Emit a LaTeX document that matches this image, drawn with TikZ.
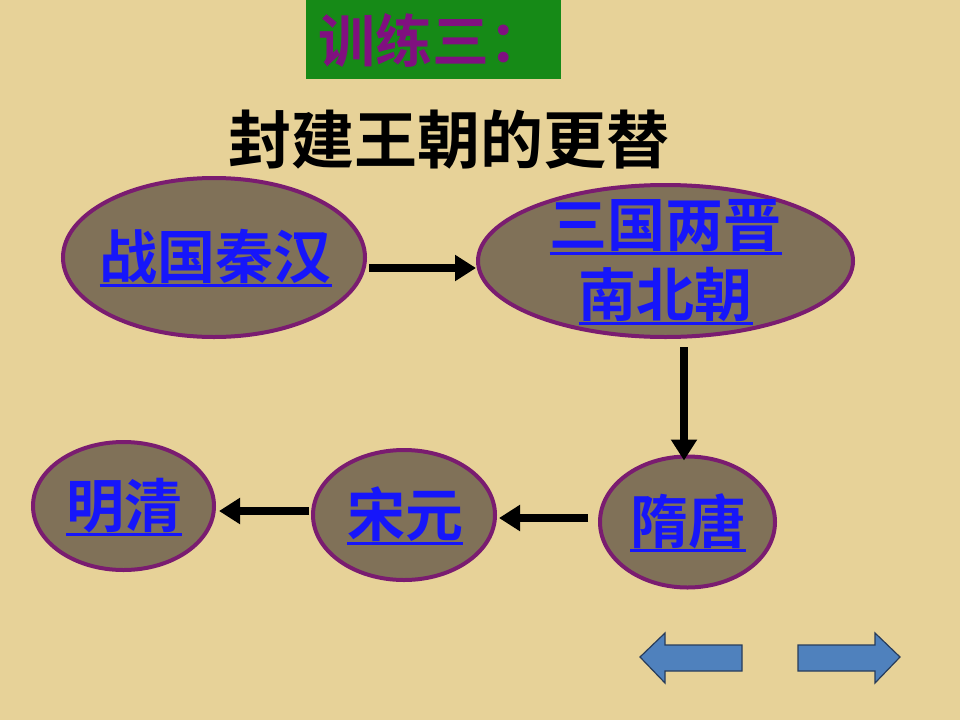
\documentclass[tikz,border=0pt]{standalone}
\usepackage{fontspec}
\newfontfamily\cjk{Noto Sans CJK SC}[BoldFont={Noto Sans CJK SC Bold}]
\usetikzlibrary{arrows.meta,shapes.geometric}
\definecolor{bgbeige}{RGB}{231,210,152}
\definecolor{ovalfill}{RGB}{128,113,88}
\definecolor{ovalborder}{RGB}{122,28,112}
\definecolor{linkblue}{RGB}{22,22,250}
\definecolor{boxgreen}{RGB}{22,138,23}
\definecolor{labelpurple}{RGB}{128,16,128}
\definecolor{navblue}{RGB}{79,129,189}
\definecolor{navedge}{RGB}{40,60,90}
\newcommand\ulink[1]{\setbox0\hbox{#1}\rlap{\rule[-9pt]{\wd0}{3pt}}\box0}
\tikzset{
  era/.style={shape=ellipse, draw=ovalborder, line width=4pt, fill=ovalfill, inner sep=0pt},
  eratext/.style={text=linkblue, align=center, inner sep=0pt,
    font=\cjk\bfseries\fontsize{58}{70}\selectfont},
  flow/.style={line width=8pt, -{Triangle[length=21pt,width=25pt]}},
  navarrow/.style={fill=navblue, draw=navedge, line width=1.2pt, line join=miter}
}
\begin{document}
\begin{tikzpicture}[x=1pt,y=-1pt]
\fill[bgbeige] (0,0) rectangle (960,720);
\useasboundingbox (0,0) rectangle (960,720);
% title box
\fill[boxgreen] (306,0) rectangle (561,79);
\node[anchor=west, text=labelpurple, font=\cjk\bfseries\fontsize{57}{60}\selectfont, inner sep=0pt] (lbl) at (318,40) {训练三：};
\node[font=\cjk\bfseries\fontsize{63}{70}\selectfont, inner sep=0pt] (title) at (449,140) {封建王朝的更替};
% eras
\node[era, minimum width=302pt, minimum height=159pt] (e1) at (214,257.5) {};
\node[era, minimum width=375pt, minimum height=152pt] (e2) at (665.5,261) {};
\node[era, minimum width=175pt, minimum height=131pt] (e3) at (687.5,522) {};
\node[era, minimum width=182pt, minimum height=130pt] (e4) at (404,515) {};
\node[era, minimum width=181pt, minimum height=128pt] (e5) at (123.5,506) {};
\node[eratext, anchor=base] (t1) at (215.5,278) {\ulink{战国秦汉}};
\node[eratext, anchor=base] (t2a) at (665.5,246) {\ulink{三国两晋}};
\node[eratext, anchor=base] (t2b) at (665.5,316) {\ulink{南北朝}};
\node[eratext, anchor=base] (t3) at (688,543) {\ulink{隋唐}};
\node[eratext, anchor=base] (t4) at (405,536) {\ulink{宋元}};
\node[eratext, anchor=base] (t5) at (124,527) {\ulink{明清}};
% connectors
\draw[flow] ([xshift=2pt,yshift=-10.5pt]e1.east) -- ([yshift=-7pt]e2.west);
\draw[flow] ([xshift=18.5pt,yshift=-8pt]e2.south) -- ([xshift=-3.5pt,yshift=-6pt]e3.north);
\draw[flow] ([xshift=-10pt,yshift=4pt]e3.west) -- ([xshift=2pt,yshift=-3pt]e4.east);
\draw[flow] ([xshift=-2pt,yshift=4pt]e4.west) -- ([xshift=3pt,yshift=-5pt]e5.east);
% navigation arrows
\draw[navarrow] (640,657) -- (665,633) -- (665,645) -- (742,645) -- (742,671) -- (665,671) -- (665,683) -- cycle;
\draw[navarrow] (900,657) -- (875,633) -- (875,645) -- (798,645) -- (798,671) -- (875,671) -- (875,683) -- cycle;
\end{tikzpicture}
\end{document}
